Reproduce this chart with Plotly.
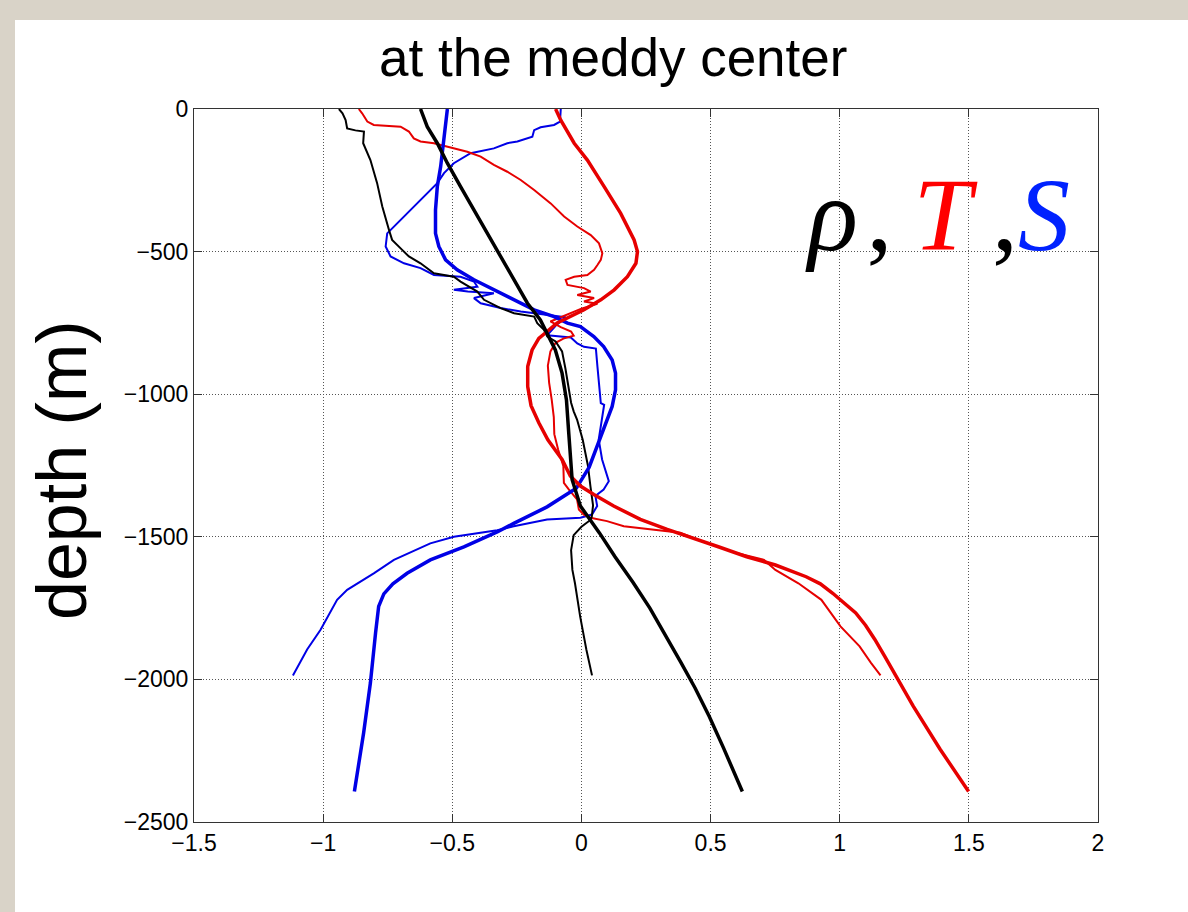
import plotly.graph_objects as go

# ---------------- data ----------------
x_ticks = [-1.5, -1, -0.5, 0, 0.5, 1, 1.5, 2]
y_ticks = [0, -500, -1000, -1500, -2000, -2500]

# thin, noisy black profile (rho, observed)
rho_obs_x = [-0.939, -0.925, -0.913, -0.907, -0.875, -0.842, -0.845, -0.817, -0.791, -0.771,
             -0.745, -0.733, -0.694, -0.668, -0.623, -0.571, -0.494, -0.468, -0.403, -0.377,
             -0.313, -0.261, -0.183, -0.171, -0.145, -0.132, -0.100, -0.075, -0.062, -0.050,
             -0.040, -0.030, -0.017, 0.005, 0.025, 0.035, 0.045, 0.040, 0.035, 0.000,
             -0.030, -0.040, -0.035, -0.025, -0.005, 0.019, 0.041]
rho_obs_z = [0, -15, -39, -68, -75, -79, -120, -179, -260, -342,
             -424, -459, -494, -517, -541, -576, -588, -605, -640, -669,
             -698, -716, -728, -751, -774, -798, -815, -850, -910, -980,
             -1030, -1060, -1089, -1160, -1250, -1324, -1390, -1430, -1441, -1465,
             -1494, -1547, -1616, -1663, -1779, -1895, -1986]

# thick, smooth black profile (rho, model)
rho_mod_x = [-0.623, -0.597, -0.558, -0.519, -0.468, -0.416, -0.364, -0.313, -0.261, -0.209,
             -0.159, -0.133, -0.101, -0.075, -0.058, -0.049, -0.036, -0.004, 0.035, 0.071,
             0.130, 0.200, 0.265, 0.330, 0.385, 0.440, 0.495, 0.550, 0.623]
rho_mod_z = [0, -62, -120, -190, -272, -354, -436, -517, -599, -681,
             -740, -787, -845, -926, -1020, -1137, -1300, -1392, -1441, -1488,
             -1570, -1660, -1750, -1850, -1940, -2030, -2130, -2240, -2393]

# thick, smooth red profile (T, model)
T_mod_x = [-0.100, -0.080, -0.028, 0.023, 0.088, 0.152, 0.204, 0.217, 0.211, 0.178,
           0.127, 0.075, 0.010, -0.041, -0.094, -0.133, -0.165, -0.191, -0.208, -0.208,
           -0.195, -0.165, -0.130, -0.075, -0.043, -0.004, 0.048, 0.125, 0.228, 0.332,
           0.420, 0.530, 0.640, 0.751, 0.870, 0.925, 0.973, 1.020, 1.062, 1.100,
           1.136, 1.175, 1.210, 1.284, 1.388, 1.499]
T_mod_z = [0, -39, -120, -179, -272, -366, -459, -500, -541, -588,
           -634, -669, -704, -728, -750, -780, -804, -845, -903, -973,
           -1040, -1100, -1160, -1229, -1287, -1322, -1352, -1392, -1439, -1474,
           -1500, -1535, -1570, -1599, -1640, -1665, -1698, -1735, -1767, -1810,
           -1860, -1920, -1977, -2093, -2244, -2393]

# thin, noisy red profile (T, observed)
T_obs_x = [-0.862, -0.849, -0.829, -0.804, -0.700, -0.668, -0.649, -0.623, -0.571, -0.494,
           -0.442, -0.390, -0.339, -0.287, -0.235, -0.183, -0.119, -0.067, -0.016, 0.036,
           0.068, 0.081, 0.075, 0.062, 0.049, 0.023, -0.028, -0.061, -0.054, 0.010,
           0.036, -0.016, 0.049, 0.010, 0.062, 0.000, -0.070, -0.120, -0.080, -0.040,
           -0.030, -0.070, -0.100, -0.120, -0.130, -0.125, -0.115, -0.107, -0.105, -0.090,
           -0.070, -0.068, -0.049, -0.017, -0.010, 0.009, 0.035, 0.099, 0.164, 0.280,
           0.383, 0.456, 0.604, 0.707, 0.751, 0.840, 0.929, 1.003, 1.077, 1.121,
           1.158]
T_obs_z = [0, -15, -44, -56, -62, -79, -103, -114, -120, -138,
           -150, -167, -196, -220, -249, -284, -331, -377, -412, -442,
           -471, -506, -529, -547, -564, -582, -588, -599, -617, -628,
           -640, -652, -663, -675, -683, -700, -725, -745, -765, -780,
           -795, -805, -820, -850, -900, -960, -1020, -1080, -1140, -1195,
           -1252, -1311, -1334, -1369, -1404, -1422, -1433, -1445, -1463, -1474,
           -1486, -1512, -1558, -1581, -1616, -1663, -1721, -1814, -1884, -1942,
           -1986]

# thick, smooth blue profile (S, model)
S_mod_x = [-0.519, -0.526, -0.535, -0.545, -0.558, -0.565, -0.565, -0.552, -0.526, -0.481,
           -0.416, -0.339, -0.261, -0.183, -0.106, -0.054, -0.004, 0.048, 0.086, 0.119,
           0.132, 0.132, 0.119, 0.095, 0.070, 0.030, -0.020, -0.070, -0.133, -0.262,
           -0.326, -0.455, -0.585, -0.675, -0.730, -0.765, -0.785, -0.797, -0.817, -0.843,
           -0.879]
S_mod_z = [0, -62, -132, -202, -272, -354, -436, -482, -529, -564,
           -599, -634, -669, -704, -728, -751, -763, -798, -833, -880,
           -926, -985, -1043, -1100, -1160, -1256, -1330, -1360, -1395, -1453,
           -1483, -1535, -1581, -1628, -1665, -1700, -1744, -1837, -2012, -2186,
           -2393]

# thin, noisy blue profile (S, observed)
S_obs_x = [-0.080, -0.083, -0.106, -0.158, -0.183, -0.190, -0.248, -0.287, -0.339, -0.429,
           -0.494, -0.532, -0.558, -0.610, -0.661, -0.713, -0.752, -0.758, -0.739, -0.687,
           -0.623, -0.571, -0.468, -0.416, -0.403, -0.494, -0.440, -0.339, -0.416, -0.390,
           -0.313, -0.235, -0.080, -0.061, -0.100, -0.132, -0.041, -0.016, 0.010, 0.056,
           0.062, 0.068, 0.075, 0.088, 0.067, 0.080, 0.106, 0.086, 0.054, 0.061,
           0.041, -0.004, -0.133, -0.262, -0.326, -0.494, -0.585, -0.726, -0.804, -0.907,
           -0.946, -1.010, -1.062, -1.117]
S_obs_z = [0, -44, -56, -64, -74, -97, -114, -120, -138, -155,
           -190, -225, -260, -307, -354, -401, -436, -482, -517, -541,
           -558, -582, -588, -605, -623, -634, -640, -646, -663, -681,
           -698, -710, -728, -730, -760, -793, -801, -822, -834, -840,
           -903, -973, -1031, -1037, -1159, -1229, -1305, -1334, -1357, -1392,
           -1422, -1433, -1439, -1463, -1477, -1500, -1523, -1581, -1628, -1686,
           -1721, -1826, -1895, -1986]

RED = "#e60000"
BLUE = "#0000e6"
BLACK = "#000000"

series = [
    (S_obs_x, S_obs_z, BLUE, 2.0),
    (T_obs_x, T_obs_z, RED, 2.0),
    (rho_obs_x, rho_obs_z, BLACK, 2.0),
    (S_mod_x, S_mod_z, BLUE, 3.5),
    (T_mod_x, T_mod_z, RED, 3.5),
    (rho_mod_x, rho_mod_z, BLACK, 3.5),
]

fig = go.Figure()
for xs, zs, col, w in series:
    fig.add_trace(go.Scatter(x=xs, y=zs, mode="lines",
                             line=dict(color=col, width=w),
                             showlegend=False, hoverinfo="skip"))

BEIGE = "#d9d3c8"
W, H = 1188, 912
L, R, T, B = 194, 1098, 109, 822
pw, ph = R - L, B - T

def px2paper_x(px):
    return (px - L) / pw

def py2paper_y(py):
    return (B - py) / ph

axis_common = dict(
    showline=True, linecolor="#333333", linewidth=1, mirror="ticks",
    ticks="inside", ticklen=8, tickcolor="#333333",
    showgrid=True, gridcolor="#555555", griddash="1px,2px", gridwidth=1,
    zeroline=False,
    tickfont=dict(family="Liberation Sans, Arial, sans-serif", size=23, color="black"),
)

fig.update_layout(
    width=W, height=H,
    paper_bgcolor=BEIGE,
    plot_bgcolor="white",
    margin=dict(l=L, r=W - R, t=T, b=H - B, autoexpand=False),
    xaxis=dict(range=[-1.5, 2], tickvals=x_ticks, **axis_common),
    yaxis=dict(range=[-2500, 0], tickvals=y_ticks, **axis_common),
    shapes=[dict(type="rect", xref="paper", yref="paper",
                 x0=px2paper_x(15), x1=px2paper_x(W + 5),
                 y0=py2paper_y(H + 5), y1=py2paper_y(20),
                 fillcolor="white", line=dict(width=0), layer="below")],
    annotations=[
        dict(text="at the meddy center", xref="paper", yref="paper",
             x=px2paper_x(613), y=py2paper_y(58), xanchor="center", yanchor="middle",
             showarrow=False,
             font=dict(family="Liberation Sans, Arial, sans-serif", size=53, color="black")),
        dict(text="depth (m)", xref="paper", yref="paper",
             x=px2paper_x(62), y=py2paper_y(470), xanchor="center", yanchor="middle",
             textangle=-90, showarrow=False,
             font=dict(family="Liberation Sans, Arial, sans-serif", size=70, color="black")),
        dict(text="<i>ρ</i>\u200a,\u2009<i><span style='color:#ff0000'>T</span></i>\u2009,"
                  "<i><span style='color:#0022ff'>S</span></i>",
             xref="paper", yref="paper",
             x=px2paper_x(803), y=py2paper_y(214), xanchor="left", yanchor="middle",
             showarrow=False,
             font=dict(family="Liberation Serif, Times New Roman, serif", size=104, color="black")),
    ],
)

fig.write_html(
    "out.html",
    config={"displayModeBar": False},
    post_script=("document.body.style.margin='0';"
                 "document.body.style.padding='0';"
                 "document.body.style.background='" + BEIGE + "';"),
)
